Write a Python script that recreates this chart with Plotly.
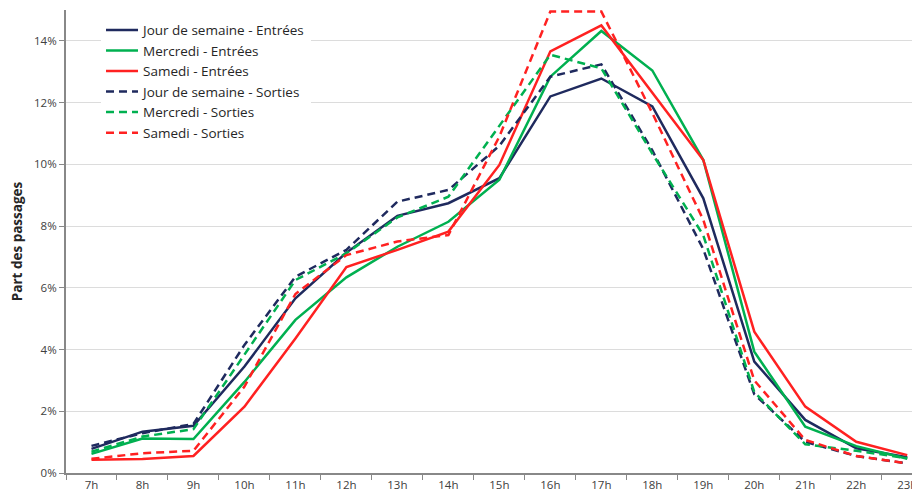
import plotly.graph_objects as go

# Heures (catégories)
heures = ["7h", "8h", "9h", "10h", "11h", "12h", "13h", "14h", "15h",
          "16h", "17h", "18h", "19h", "20h", "21h", "22h", "23h"]

# Part des passages (fraction)
semaine_entrees = [0.0078, 0.0134, 0.0153, 0.0345, 0.0566, 0.0714, 0.0833, 0.0874, 0.0955,
                   0.1220, 0.1278, 0.1188, 0.0890, 0.0361, 0.0172, 0.0080, 0.0051]
mercredi_entrees = [0.0062, 0.0112, 0.0110, 0.0295, 0.0496, 0.0634, 0.0733, 0.0814, 0.0950,
                    0.1284, 0.1432, 0.1304, 0.1014, 0.0393, 0.0150, 0.0087, 0.0046]
samedi_entrees = [0.0043, 0.0045, 0.0055, 0.0215, 0.0436, 0.0667, 0.0723, 0.0782, 0.0998,
                  0.1366, 0.1450, 0.1230, 0.1014, 0.0458, 0.0215, 0.0101, 0.0058]
semaine_sorties = [0.0088, 0.0129, 0.0159, 0.0415, 0.0636, 0.0723, 0.0879, 0.0917, 0.1060,
                   0.1284, 0.1324, 0.1045, 0.0725, 0.0255, 0.0101, 0.0055, 0.0031]
mercredi_sorties = [0.0069, 0.0118, 0.0142, 0.0385, 0.0625, 0.0712, 0.0828, 0.0895, 0.1125,
                    0.1355, 0.1311, 0.1035, 0.0770, 0.0262, 0.0093, 0.0072, 0.0048]
samedi_sorties = [0.0046, 0.0064, 0.0072, 0.0280, 0.0580, 0.0706, 0.0750, 0.0771, 0.1090,
                  0.1495, 0.1495, 0.1166, 0.0820, 0.0300, 0.0107, 0.0055, 0.0031]

NAVY = "#1f2a5e"
GREEN = "#00b050"
RED = "#ff2121"

series = [
    ("Jour de semaine - Entrées", semaine_entrees, NAVY, "solid"),
    ("Mercredi - Entrées", mercredi_entrees, GREEN, "solid"),
    ("Samedi - Entrées", samedi_entrees, RED, "solid"),
    ("Jour de semaine - Sorties", semaine_sorties, NAVY, "8px,5px"),
    ("Mercredi - Sorties", mercredi_sorties, GREEN, "8px,5px"),
    ("Samedi - Sorties", samedi_sorties, RED, "8px,5px"),
]

fig = go.Figure()
for name, vals, color, dash in series:
    fig.add_trace(go.Scatter(
        x=heures, y=vals, name=name, mode="lines",
        line=dict(color=color, width=2.5, dash=dash),
    ))

FONT = "Open Sans, Noto Sans, sans-serif"

# the page puts the figure 8px in from the top-left corner
fig.update_layout(
    width=912, height=487,
    margin=dict(l=58, r=0, t=2, b=22, autoexpand=False),
    plot_bgcolor="white", paper_bgcolor="white",
    font=dict(family=FONT, size=11, color="#404040"),
    showlegend=True,
    legend=dict(
        x=0.041, y=0.99, xanchor="left", yanchor="top",
        bgcolor="white", font=dict(size=13.5, color="#262626"),
        tracegroupgap=0, itemwidth=32,
    ),
    xaxis=dict(
        type="category", range=[-0.5, 16.25],
        tickson="boundaries", ticks="outside", ticklen=5, tickcolor="#888",
        showline=True, linecolor="#888", linewidth=2,
        showgrid=False, tickfont=dict(size=11.5), automargin=False,
    ),
    yaxis=dict(
        range=[0, 0.15], dtick=0.02, tickformat=".0%",
        ticks="outside", ticklen=5, tickcolor="#888",
        showline=True, linecolor="#888", linewidth=2,
        showgrid=True, gridcolor="#dcdcdc", gridwidth=1,
        zeroline=False, tickfont=dict(size=11.5), automargin=False,
        title=dict(text="<b>Part des passages</b>", font=dict(size=13.5, color="#262626"),
                   standoff=8),
    ),
)

fig.write_html("out.html")
